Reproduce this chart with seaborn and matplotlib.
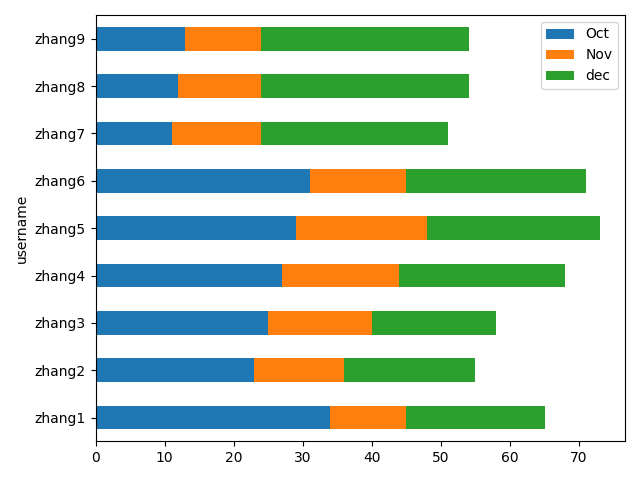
import pandas as pd
import matplotlib
matplotlib.use('Agg')
import matplotlib.pyplot as plt
import seaborn as sns
from matplotlib.patches import Patch

# data
usernames = ['zhang1', 'zhang2', 'zhang3', 'zhang4', 'zhang5', 'zhang6', 'zhang7', 'zhang8', 'zhang9']
oct_vals = [34, 23, 25, 27, 29, 31, 11, 12, 13]
nov_vals = [11, 13, 15, 17, 19, 14, 13, 12, 11]
dec_vals = [20, 19, 18, 24, 25, 26, 27, 30, 30]
months = ['Oct', 'Nov', 'dec']
colors = ['#1f77b4', '#ff7f0e', '#2ca02c']

df = pd.DataFrame({'username': usernames, 'Oct': oct_vals, 'Nov': nov_vals, 'dec': dec_vals})
df['c_oct'] = df['Oct']
df['c_nov'] = df['Oct'] + df['Nov']
df['c_dec'] = df['Oct'] + df['Nov'] + df['dec']

fig, ax = plt.subplots(figsize=(6.4, 4.8), dpi=100)
order = usernames[::-1]  # zhang1 at the bottom

# draw cumulative totals back to front so they look stacked
for col, c in zip(['c_dec', 'c_nov', 'c_oct'], colors[::-1]):
    sns.barplot(data=df, x=col, y='username', order=order, color=c,
                saturation=1, width=0.5, linewidth=0, orient='h', ax=ax)

ax.set_xlabel('')
ax.set_ylabel('username')

handles = [Patch(facecolor=c, label=m) for m, c in zip(months, colors)]
ax.legend(handles=handles, loc='upper right')

plt.tight_layout()
plt.savefig('out.png', dpi=100)
